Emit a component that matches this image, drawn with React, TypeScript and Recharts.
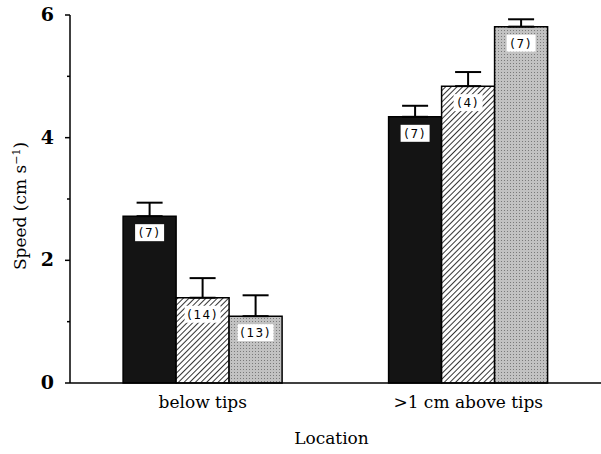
import { BarChart, Bar, XAxis, YAxis, ErrorBar, LabelList } from "recharts"

const locations = ["below tips", ">1 cm above tips"]

const solidSpeed = [2.72, 4.34]
const solidSe = [0.22, 0.18]
const solidN = ["(7)", "(7)"]

const hatchSpeed = [1.39, 4.84]
const hatchSe = [0.32, 0.23]
const hatchN = ["(14)", "(4)"]

const dotSpeed = [1.09, 5.81]
const dotSe = [0.34, 0.12]
const dotN = ["(13)", "(7)"]

const yTicks = [0, 1, 2, 3, 4, 5, 6]

const data = locations.map((loc, i) => ({
  loc,
  solid: solidSpeed[i],
  solidErr: [0, solidSe[i]],
  solidN: solidN[i],
  hatch: hatchSpeed[i],
  hatchErr: [0, hatchSe[i]],
  hatchN: hatchN[i],
  dot: dotSpeed[i],
  dotErr: [0, dotSe[i]],
  dotN: dotN[i],
}))

const serif = "DejaVu Serif"

function SpeedTick(props: any) {
  const { x, y, payload } = props
  const major = payload.value % 2 === 0
  return (
    <g>
      <line x1={x - (major ? 5 : 3)} x2={x} y1={y} y2={y} stroke="#000" strokeWidth={1.5} />
      {major && (
        <text x={x - 16} y={y} dy={6} textAnchor="end" fontSize={19} fontWeight="bold" fontFamily={serif} fill="#000">
          {payload.value}
        </text>
      )}
    </g>
  )
}

function NTag(props: any) {
  const { x, y, width, value } = props
  const w = String(value).length * 7 + 8
  const cx = x + width / 2
  const top = y + 8
  return (
    <g>
      <rect x={cx - w / 2} y={top} width={w} height={17} fill="#fff" />
      <text x={cx} y={top + 13} textAnchor="middle" fontSize={12} fontFamily="DejaVu Sans" letterSpacing={1.5} fill="#000">
        {value}
      </text>
    </g>
  )
}

function SpeedLabel() {
  return (
    <text transform="translate(26,206) rotate(-90)" textAnchor="middle" fontSize={17} fontFamily={serif} fill="#000">
      Speed (cm s<tspan dy={-6} fontSize={11}>−1</tspan>
      <tspan dy={6}>)</tspan>
    </text>
  )
}

export default function App() {
  return (
    <div style={{ position: "absolute", left: 0, top: 0 }}>
      <BarChart
        width={601}
        height={454}
        data={data}
        margin={{ top: 15, right: 0, bottom: 0, left: 0 }}
        barGap={0}
        barCategoryGap="20%"
      >
        <defs>
          <pattern id="hatch" width="4" height="4" patternUnits="userSpaceOnUse" patternTransform="rotate(45)">
            <rect width="4" height="4" fill="#fff" />
            <line x1="0" y1="0" x2="0" y2="4" stroke="#000" strokeWidth="1.6" />
          </pattern>
          <pattern id="stipple" width="3" height="3" patternUnits="userSpaceOnUse">
            <rect width="3" height="3" fill="#c2c2c2" />
            <rect x="0" y="0" width="1" height="1" fill="#7a7a7a" />
          </pattern>
        </defs>
        <XAxis
          dataKey="loc"
          height={71}
          axisLine={{ stroke: "#000", strokeWidth: 1.5 }}
          tickLine={false}
          tickSize={0}
          tickMargin={13}
          tick={{ fill: "#000", fontSize: 17, fontFamily: serif }}
          label={{ value: "Location", position: "insideBottom", offset: 10, fill: "#000", fontSize: 17, fontFamily: serif, dx: -4 }}
        />
        <YAxis
          width={70}
          domain={[0, 6]}
          ticks={yTicks}
          interval={0}
          axisLine={{ stroke: "#000", strokeWidth: 1.5 }}
          tickLine={false}
          tickSize={0}
          tickMargin={0}
          tick={<SpeedTick />}
          label={{ content: <SpeedLabel /> }}
        />
        <Bar dataKey="solid" fill="#141414" stroke="#000" strokeWidth={1.5} isAnimationActive={false}>
          <ErrorBar dataKey="solidErr" width={13} stroke="#000" strokeWidth={2} direction="y" />
          <LabelList dataKey="solidN" content={<NTag />} />
        </Bar>
        <Bar dataKey="hatch" fill="url(#hatch)" stroke="#000" strokeWidth={1.5} isAnimationActive={false}>
          <ErrorBar dataKey="hatchErr" width={13} stroke="#000" strokeWidth={2} direction="y" />
          <LabelList dataKey="hatchN" content={<NTag />} />
        </Bar>
        <Bar dataKey="dot" fill="url(#stipple)" stroke="#000" strokeWidth={1.5} isAnimationActive={false}>
          <ErrorBar dataKey="dotErr" width={13} stroke="#000" strokeWidth={2} direction="y" />
          <LabelList dataKey="dotN" content={<NTag />} />
        </Bar>
      </BarChart>
    </div>
  )
}
